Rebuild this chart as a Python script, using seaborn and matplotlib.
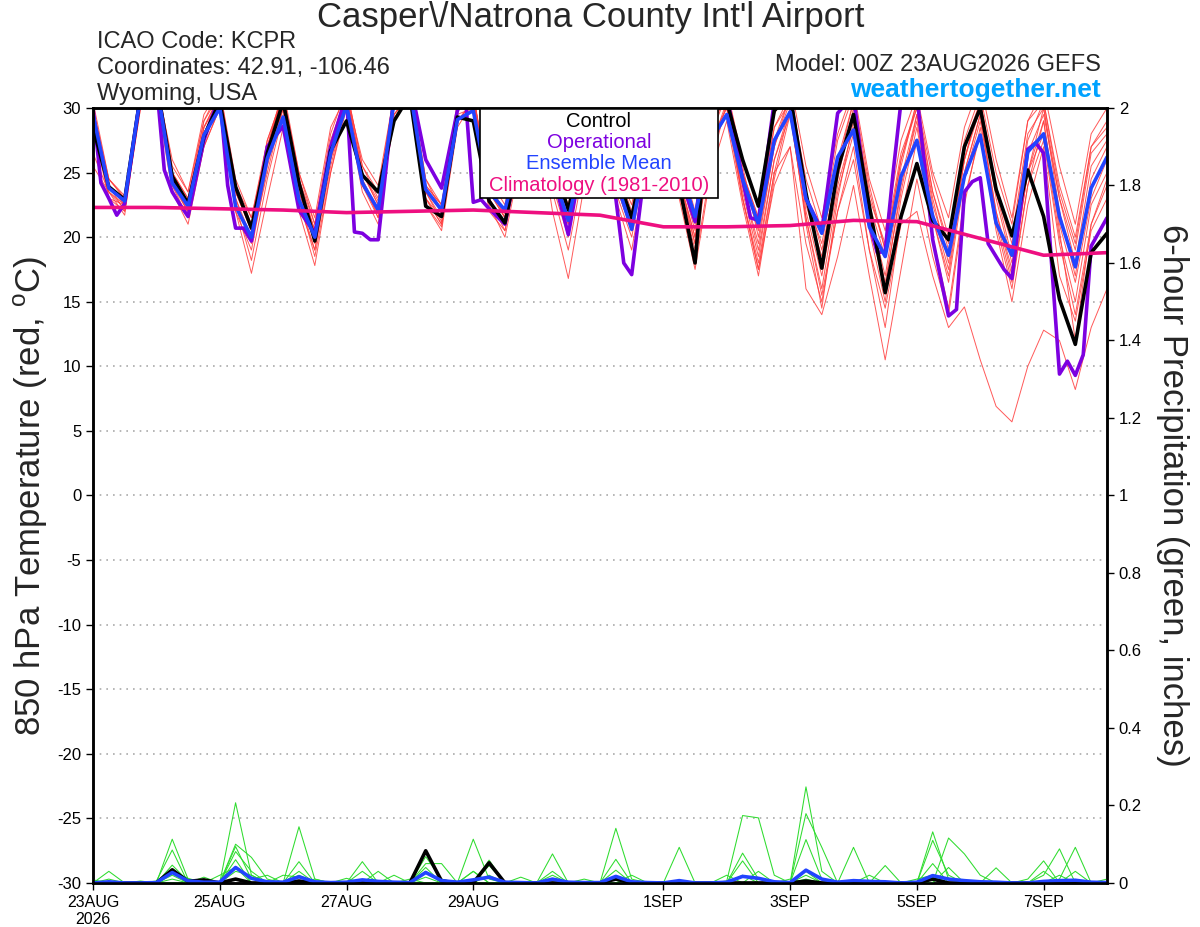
import numpy as np
import pandas as pd
import matplotlib
matplotlib.use("Agg")
import matplotlib.pyplot as plt
from matplotlib.patches import Rectangle
import seaborn as sns

# forecast hours, 6-hourly, 00Z 23AUG2026 -> 00Z 8SEP2026
hours = np.arange(0, 385, 6)

# 850 hPa temperature (C), GEFS members (values above 30 run off the top)
m01 = [30.5, 24.5, 23.2, 31.5, 32.5, 25.5, 23.5, 29.0,
       31.5, 24.0, 21.5, 27.5, 31.0, 25.0, 21.0, 28.0,
       31.5, 25.5, 23.0, 31.0, 32.0, 24.0, 22.5, 30.5,
       31.0, 24.5, 22.5, 29.0, 32.0, 26.0, 23.0, 29.0,
       32.0, 25.5, 22.0, 29.0, 32.0, 26.5, 22.0, 30.0,
       31.5, 26.0, 22.5, 29.5, 32.0, 25.5, 21.5, 28.0,
       31.5, 24.5, 20.5, 27.5, 31.0, 25.0, 21.5, 28.5,
       32.0, 26.0, 21.5, 29.0, 31.5, 25.5, 21.0, 28.0,
       30.0]
m02 = [25.5, 23.5, 21.7, 30.5, 31.5, 24.0, 21.5, 27.0,
       30.0, 22.0, 17.2, 23.0, 28.5, 22.0, 17.8, 25.0,
       30.0, 23.5, 21.0, 29.5, 31.0, 22.5, 20.5, 28.5,
       30.5, 22.5, 20.0, 26.0, 30.0, 22.0, 16.8, 24.0,
       30.0, 23.0, 19.0, 26.0, 30.5, 23.0, 17.5, 25.0,
       29.0, 22.5, 17.0, 24.5, 29.5, 21.5, 15.5, 22.0,
       27.0, 19.0, 13.0, 21.5, 27.5, 20.0, 14.5, 23.0,
       28.0, 20.5, 15.0, 22.5, 27.0, 17.0, 13.5, 20.5,
       23.0]
m03 = [30.0, 23.0, 22.0, 30.0, 31.0, 25.0, 23.0, 28.5,
       30.5, 23.5, 21.0, 27.0, 31.0, 24.0, 20.5, 27.0,
       31.0, 25.0, 22.8, 30.5, 31.0, 23.5, 21.5, 29.0,
       30.5, 23.5, 21.8, 28.0, 31.5, 25.5, 22.5, 28.5,
       31.5, 24.0, 21.5, 28.0, 31.5, 25.5, 21.0, 29.0,
       31.0, 24.0, 19.0, 26.0, 30.0, 22.5, 18.5, 25.5,
       30.5, 23.0, 19.5, 26.5, 30.0, 23.5, 19.5, 27.0,
       30.5, 24.0, 20.0, 28.0, 30.0, 23.0, 19.0, 26.5,
       28.0]
m04 = [28.5, 23.0, 22.5, 30.5, 31.5, 24.0, 22.0, 27.5,
       30.5, 22.5, 18.2, 24.5, 29.5, 22.5, 19.0, 26.0,
       30.0, 24.0, 21.5, 29.0, 31.0, 22.5, 20.8, 29.0,
       30.0, 22.0, 20.5, 27.0, 30.5, 24.5, 20.5, 26.5,
       30.5, 23.5, 20.0, 26.5, 30.5, 24.0, 19.5, 27.5,
       30.0, 23.0, 18.0, 25.0, 27.0, 16.0, 14.0, 18.5,
       24.0, 17.0, 10.5, 17.5, 24.5, 18.5, 14.0, 22.5,
       28.5, 21.0, 16.0, 24.0, 27.5, 19.5, 14.0, 21.0,
       24.0]
m05 = [29.0, 24.0, 22.0, 31.0, 32.0, 24.5, 22.8, 28.0,
       31.0, 23.5, 20.5, 26.0, 30.0, 23.0, 19.0, 25.5,
       30.5, 24.0, 22.0, 30.0, 31.5, 23.0, 21.5, 29.5,
       30.0, 23.0, 21.0, 27.5, 31.0, 24.5, 21.0, 27.0,
       31.0, 24.5, 20.5, 27.0, 31.0, 24.0, 19.0, 27.0,
       29.5, 23.0, 17.5, 24.0, 27.0, 19.5, 15.0, 22.0,
       26.0, 19.0, 14.5, 21.0, 22.0, 17.0, 13.0, 14.6,
       10.5, 6.9, 5.7, 10.0, 12.8, 12.0, 8.2, 13.0,
       16.0]
m06 = [29.0, 24.5, 23.0, 31.0, 32.0, 26.0, 23.5, 29.5,
       31.5, 24.5, 21.5, 27.0, 31.5, 25.0, 21.5, 28.5,
       31.0, 26.0, 24.0, 31.0, 32.0, 24.5, 22.5, 30.0,
       31.0, 24.0, 22.0, 28.5, 31.5, 25.0, 21.0, 27.0,
       31.0, 25.5, 22.5, 29.0, 31.5, 26.0, 21.5, 29.5,
       31.5, 25.5, 20.0, 27.0, 31.0, 24.5, 20.5, 27.5,
       31.0, 24.0, 19.0, 26.0, 30.5, 24.5, 20.0, 27.5,
       31.0, 25.0, 21.0, 29.0, 30.5, 24.0, 20.0, 27.0,
       29.0]
m07 = [26.5, 23.5, 22.2, 30.0, 31.0, 23.5, 21.0, 27.0,
       30.0, 22.0, 19.0, 25.5, 30.0, 23.0, 18.5, 25.0,
       30.5, 24.5, 21.5, 29.5, 31.0, 23.0, 21.0, 29.0,
       30.5, 23.0, 20.5, 26.5, 30.0, 23.5, 19.0, 25.5,
       30.5, 24.0, 20.5, 27.0, 30.5, 23.5, 18.0, 25.5,
       30.5, 24.0, 19.5, 27.0, 30.5, 22.0, 17.0, 24.0,
       28.5, 21.0, 16.0, 24.0, 29.0, 21.5, 17.0, 25.0,
       29.5, 22.0, 17.5, 25.0, 29.0, 21.0, 16.5, 23.0,
       26.0]
m08 = [30.0, 24.0, 22.5, 31.0, 32.0, 25.0, 22.5, 28.5,
       31.0, 23.5, 20.5, 26.5, 31.0, 24.5, 20.5, 27.5,
       31.0, 25.0, 22.5, 30.5, 31.5, 24.0, 22.5, 30.0,
       31.0, 24.0, 21.5, 28.0, 31.0, 25.0, 22.0, 28.0,
       31.5, 25.0, 21.0, 27.5, 31.0, 24.5, 20.0, 28.0,
       31.0, 25.0, 21.5, 28.5, 31.0, 23.5, 19.0, 25.0,
       29.5, 22.0, 17.0, 24.5, 29.5, 23.0, 18.0, 26.0,
       30.0, 23.5, 18.5, 26.5, 29.5, 23.0, 18.0, 25.5,
       27.5]
m09 = [29.0, 23.5, 22.5, 30.5, 31.5, 24.5, 22.0, 28.0,
       30.5, 23.0, 19.5, 25.0, 30.0, 23.5, 19.5, 26.0,
       30.5, 24.5, 22.0, 30.0, 31.0, 23.5, 21.2, 29.0,
       30.5, 23.0, 21.0, 27.5, 31.0, 24.0, 20.0, 27.0,
       31.0, 24.5, 21.5, 28.0, 31.0, 24.5, 20.0, 27.5,
       30.0, 23.5, 18.5, 26.0, 29.5, 21.5, 16.0, 23.5,
       28.0, 20.5, 15.0, 23.0, 28.5, 21.5, 16.5, 24.5,
       29.0, 22.0, 17.0, 25.0, 28.0, 20.0, 15.0, 22.5,
       25.0]
m10 = [30.0, 24.5, 23.0, 31.0, 32.5, 25.0, 23.0, 29.0,
       31.0, 24.0, 21.0, 27.5, 31.0, 24.5, 21.0, 27.0,
       31.5, 25.5, 23.5, 31.0, 32.0, 24.5, 22.0, 30.0,
       31.0, 24.0, 22.0, 28.0, 31.5, 25.5, 22.5, 28.5,
       31.5, 25.0, 21.5, 28.0, 31.5, 25.5, 21.5, 28.5,
       31.0, 24.5, 20.5, 27.5, 31.0, 23.0, 18.0, 24.5,
       30.0, 22.5, 18.5, 25.5, 30.5, 23.5, 19.0, 26.0,
       30.5, 23.0, 18.0, 25.0, 30.0, 22.0, 17.0, 24.5,
       27.0]
m11 = [29.5, 24.0, 22.5, 30.5, 31.5, 24.5, 21.8, 27.5,
       30.5, 23.0, 20.0, 26.0, 30.5, 23.5, 20.0, 26.5,
       30.5, 24.0, 21.8, 29.5, 31.0, 23.0, 21.0, 29.0,
       30.5, 23.5, 21.5, 27.5, 31.0, 24.5, 21.5, 27.5,
       31.0, 24.0, 20.5, 27.0, 31.0, 24.5, 19.5, 27.0,
       30.5, 23.0, 17.5, 25.0, 30.0, 21.0, 14.5, 23.0,
       29.0, 21.5, 16.5, 23.5, 29.5, 22.0, 17.5, 25.0,
       29.5, 21.5, 16.5, 24.0, 29.0, 20.5, 12.0, 21.0,
       24.5]
m12 = [30.0, 24.0, 22.8, 31.5, 32.0, 25.0, 22.5, 28.5,
       31.0, 23.5, 21.0, 27.0, 31.0, 24.0, 20.5, 27.0,
       31.0, 25.0, 22.5, 30.5, 31.5, 23.5, 22.0, 30.0,
       31.0, 23.5, 21.5, 28.0, 31.5, 25.0, 21.5, 28.0,
       31.5, 24.5, 21.0, 28.0, 31.5, 25.0, 20.5, 28.5,
       31.0, 25.0, 21.5, 28.5, 30.5, 23.0, 19.5, 26.0,
       30.5, 23.5, 19.0, 26.0, 30.0, 22.5, 18.5, 26.0,
       30.5, 23.5, 19.5, 27.5, 30.5, 23.5, 19.5, 27.0,
       28.5]
members = [m01, m02, m03, m04, m05, m06, m07, m08, m09, m10, m11, m12]

control = [28.5, 23.9, 22.9, 31.0, 32.0, 24.7, 22.6, 27.8,
           30.5, 23.9, 20.7, 26.5, 30.5, 24.2, 19.7, 26.7,
           29.0, 24.8, 23.5, 29.0, 31.0, 22.4, 21.6, 29.3,
           29.0, 22.8, 21.1, 27.0, 30.5, 26.0, 22.1, 27.5,
           30.5, 25.0, 21.5, 27.5, 30.5, 24.0, 18.0, 32.0,
           30.5, 26.0, 22.4, 29.8, 31.0, 23.4, 17.6, 25.2,
           29.5, 22.4, 15.7, 21.6, 25.7, 21.3, 19.8, 27.0,
           30.0, 23.7, 20.1, 25.2, 21.6, 15.2, 11.7, 18.8,
           20.3]
ens_mean = [29.5, 23.8, 22.8, 31.0, 32.0, 24.2, 22.4, 27.9,
            30.0, 22.4, 20.0, 26.1, 29.3, 22.9, 20.0, 26.5,
            30.2, 24.2, 22.1, 30.5, 31.5, 23.7, 22.1, 29.1,
            29.8, 23.5, 22.1, 27.0, 30.5, 25.0, 21.3, 27.0,
            30.0, 24.5, 20.6, 27.0, 30.5, 25.5, 21.6, 27.5,
            29.5, 24.5, 21.0, 27.5, 29.7, 23.0, 20.3, 26.2,
            28.3, 20.8, 18.5, 24.7, 27.5, 21.6, 18.6, 24.7,
            27.9, 21.1, 18.6, 26.6, 28.0, 21.6, 17.7, 23.8,
            26.2]

# operational run has finer output, so it keeps its own hours
oper_hours = [0, 3, 6, 9, 12, 18, 24, 27, 30, 33, 36, 42, 48, 51, 54, 57, 60,
              66, 72, 78, 84, 90, 96, 99, 102, 105, 108, 114, 120, 126, 132,
              138, 141, 144, 147, 150, 156, 162, 168, 174, 180, 186, 192, 198,
              201, 204, 210, 216, 222, 228, 234, 240, 246, 249, 252, 258, 264,
              270, 276, 282, 288, 291, 294, 297, 300, 303, 306, 312, 318, 324,
              327, 330, 333, 336, 339, 342, 345, 348, 354, 357, 360, 363, 366,
              369, 372, 375, 378, 384]
oper_temp = [30.0, 24.2, 23.0, 21.7, 22.6, 31.0, 32.0, 25.2, 23.5, 22.5, 21.6,
             27.5, 31.0, 24.0, 20.7, 20.7, 19.7, 27.0, 28.6, 22.1, 20.3, 27.0,
             31.0, 20.4, 20.3, 19.8, 19.8, 31.0, 32.0, 26.0, 23.8, 29.8, 31.0,
             22.7, 22.9, 22.2, 21.0, 27.0, 30.5, 25.0, 20.2, 27.0, 30.5, 23.0,
             18.0, 17.1, 27.0, 30.5, 25.0, 21.2, 30.5, 31.0, 24.5, 21.5, 21.3,
             30.5, 31.0, 23.0, 20.5, 29.6, 31.0, 26.0, 21.0, 18.8, 18.9, 25.0,
             30.5, 31.0, 19.8, 13.9, 14.4, 23.5, 24.3, 24.6, 19.5, 18.5, 17.5,
             16.8, 26.8, 27.3, 26.5, 18.0, 9.4, 10.4, 9.3, 10.9, 19.3, 21.5]

# climatology (1981-2010), daily
clim_hours = np.arange(0, 385, 24)
clim_temp = [22.3, 22.3, 22.2, 22.1, 21.9, 22.0, 22.1, 21.9, 21.7,
             20.8, 20.8, 20.9, 21.3, 21.2, 19.9, 18.6, 18.8]

# 6-hour precipitation (inches)
p01 = [0, .03, 0, 0, 0, .113, .01, 0,
       0, .207, .02, 0, 0, .145, .01, 0,
       0, .055, 0, 0, 0, 0, 0, 0,
       .113, .01, 0, 0, 0, .075, 0, 0,
       0, .141, .01, 0, 0, 0, 0, 0,
       .005, .174, .168, .02, 0, .248, .03, 0,
       0, 0, 0, 0, 0, .132, .01, 0,
       0, 0, 0, .01, .057, 0, 0, 0,
       0]
p02 = [0, 0, 0, 0, .005, .085, 0, 0,
       0, .10, .066, .01, 0, .055, 0, 0,
       0, 0, .03, 0, 0, .068, .01, 0,
       0, .059, 0, 0, 0, 0, 0, 0,
       0, .061, 0, 0, 0, .092, 0, 0,
       0, .02, 0, 0, 0, .179, .092, 0,
       0, 0, 0, 0, 0, 0, .116, .075,
       .02, 0, 0, 0, 0, .01, .092, 0,
       0]
p03 = [.008, 0, 0, 0, 0, .046, .005, 0,
       0, .094, .01, .02, 0, 0, 0, 0,
       .012, 0, 0, 0, 0, .05, .05, 0,
       0, 0, 0, .015, 0, 0, 0, 0,
       0, .033, 0, 0, 0, 0, 0, 0,
       0, .077, .01, 0, 0, .112, .01, 0,
       .092, 0, 0, 0, 0, .11, .02, 0,
       0, 0, 0, 0, .02, .088, 0, 0,
       0]
p04 = [0, 0, 0, 0, 0, .03, .012, 0,
       0, .081, .03, 0, 0, 0, .01, 0,
       0, 0, 0, 0, 0, .04, 0, 0,
       .03, 0, 0, 0, 0, .03, 0, 0,
       0, 0, 0, 0, 0, 0, 0, 0,
       0, .057, 0, 0, 0, .03, 0, 0,
       0, 0, .045, 0, 0, .05, 0, 0,
       0, .039, 0, 0, .03, 0, 0, 0,
       0]
p05 = [0, .01, 0, 0, 0, .02, 0, .015,
       0, .06, 0, 0, 0, .03, 0, 0,
       0, 0, 0, .02, 0, .03, 0, 0,
       0, .045, 0, 0, 0, 0, 0, .01,
       0, 0, .02, 0, 0, 0, 0, 0,
       0, 0, .03, 0, 0, .02, 0, 0,
       0, .02, 0, 0, 0, 0, .04, 0,
       0, 0, 0, 0, 0, 0, .03, 0,
       .01]
p06 = [0, 0, 0, 0, 0, .01, 0, 0,
       .02, .04, 0, 0, .02, .015, 0, 0,
       0, .03, 0, 0, .01, 0, 0, 0,
       .03, 0, 0, 0, 0, .02, 0, 0,
       0, .015, 0, 0, 0, 0, 0, 0,
       .02, 0, 0, 0, .01, 0, 0, 0,
       0, 0, 0, 0, .01, .02, 0, 0,
       0, 0, 0, 0, 0, .02, 0, 0,
       0]
p07 = [0, 0, 0, .005, 0, 0, 0, 0,
       0, .03, .02, 0, 0, .02, 0, 0,
       0, 0, 0, 0, 0, .015, 0, 0,
       0, .02, 0, 0, 0, 0, 0, 0,
       0, .01, 0, 0, 0, 0, 0, 0,
       0, 0, 0, 0, 0, .01, 0, 0,
       0, 0, 0, 0, 0, .015, 0, 0,
       0, 0, 0, 0, 0, 0, 0, 0,
       0]
pcp_members = [p01, p02, p03, p04, p05, p06, p07]

pcp_control = [0, 0, 0, 0, 0, .034, .004, .008,
               0, .01, 0, 0, 0, .005, 0, 0,
               0, 0, 0, 0, 0, .083, .005, 0,
               0, .052, 0, 0, 0, 0, 0, 0,
               0, .01, 0, 0, 0, 0, 0, 0,
               0, 0, 0, 0, 0, .005, 0, 0,
               0, 0, 0, 0, 0, .01, 0, 0,
               0, 0, 0, 0, 0, 0, 0, 0,
               0]
pcp_mean = [0, .003, 0, 0, .001, .027, .005, .002,
            .002, .04, .012, .003, .002, .016, .003, .001,
            .002, .008, .004, .002, .001, .027, .006, .002,
            .008, .015, .002, .001, 0, .01, .002, .001,
            .001, .017, .003, .001, 0, .006, 0, 0,
            .002, .017, .012, .003, .001, .033, .01, .002,
            .006, .004, .003, 0, .002, .019, .01, .006,
            .003, .002, 0, 0, .004, .006, .007, .002,
            .001]

tick_hours = [0, 48, 96, 144, 216, 264, 312, 360]
tick_labels = ['23AUG\n2026', '25AUG', '27AUG', '29AUG', '1SEP', '3SEP', '5SEP', '7SEP']

RED = '#ff3c3c'
GREEN = '#2edc2e'
PURPLE = '#7d00e0'
BLUE = '#2244ff'
PINK = '#ee0f80'

sns.set_style("ticks")
plt.rcParams['font.family'] = ['Liberation Sans', 'DejaVu Sans']
plt.rcParams['mathtext.fontset'] = 'custom'
plt.rcParams['mathtext.rm'] = 'Liberation Sans'
plt.rcParams['axes.unicode_minus'] = False

fig = plt.figure(figsize=(12, 9.27), dpi=100)
ax = fig.add_axes([0.0775, 0.0475, 0.845, 0.836])
ax2 = ax.twinx()

mem_df = pd.concat([pd.DataFrame({'hour': hours, 'temp': m, 'member': k})
                    for k, m in enumerate(members)])
sns.lineplot(data=mem_df, x='hour', y='temp', units='member', estimator=None,
             color=RED, lw=0.7, alpha=0.85, ax=ax, legend=False)
sns.lineplot(x=oper_hours, y=oper_temp, color=PURPLE, lw=2.6, ax=ax)
sns.lineplot(x=hours, y=control, color='black', lw=2.6, ax=ax)
sns.lineplot(x=hours, y=ens_mean, color=BLUE, lw=2.6, ax=ax)
sns.lineplot(x=clim_hours, y=clim_temp, color=PINK, lw=2.6, ax=ax)

pcp_df = pd.concat([pd.DataFrame({'hour': hours, 'pcp': p, 'member': k})
                    for k, p in enumerate(pcp_members)])
sns.lineplot(data=pcp_df, x='hour', y='pcp', units='member', estimator=None,
             color=GREEN, lw=0.75, ax=ax2, legend=False)
sns.lineplot(x=hours, y=pcp_control, color='black', lw=2.6, ax=ax2)
sns.lineplot(x=hours, y=pcp_mean, color=BLUE, lw=2.6, ax=ax2)

ax.set_xlim(0, 384)
ax.set_ylim(-30, 30)
ax2.set_ylim(0, 2)
ax.set_yticks(range(-30, 31, 5))
ax2.set_yticks(np.arange(0, 2.01, 0.2))
ax2.set_yticklabels(['0', '0.2', '0.4', '0.6', '0.8', '1', '1.2', '1.4', '1.6', '1.8', '2'])
ax.set_xticks(tick_hours)
ax.set_xticklabels(tick_labels)

ax.yaxis.grid(True, linestyle=(0, (1, 3)), color='#aaaaaa', lw=1.2)
ax.xaxis.grid(False)

for a in (ax, ax2):
    for s in a.spines.values():
        s.set_color('black')
        s.set_linewidth(1.8)
    a.tick_params(direction='out', length=5, width=1, colors='black', labelsize=12)
ax.tick_params(axis='x', labelsize=11.5)
ax2.tick_params(right=True, left=False)
ax.tick_params(left=True, bottom=True, right=False)

ax.set_xlabel('')
ax2.set_xlabel('')
ax.set_ylabel(r'850 hPa Temperature (red, $^{\mathrm{o}}$C)', fontsize=25)
ax.yaxis.set_label_coords(-0.061, 0.5)
ax.yaxis.label.set_va('center')
ax2.set_ylabel('6-hour Precipitation (green, inches)', fontsize=25, rotation=270)
ax2.yaxis.set_label_coords(1.065, 0.5)
ax2.yaxis.label.set_va('center')

# legend box
ax.add_patch(Rectangle((0.3817, 0.8839), 0.2347, 0.1161, transform=ax.transAxes,
                       facecolor='white', edgecolor='black', lw=1.2, zorder=5))
leg_items = [('Control', 'black'), ('Operational', PURPLE),
             ('Ensemble Mean', BLUE), ('Climatology (1981-2010)', PINK)]
for (txt, col), yy in zip(leg_items, [0.9759, 0.9488, 0.9209, 0.8933]):
    ax.text(0.499, yy, txt, color=col, fontsize=14.5, ha='center', va='baseline',
            transform=ax.transAxes, zorder=6)

# header
fig.text(0.492, 1 - 18 / 927, "Casper\\/Natrona County Int'l Airport",
         ha='center', va='center', fontsize=25)
fig.text(97 / 1200, 1 - 48 / 927, 'ICAO Code: KCPR', fontsize=17, va='baseline')
fig.text(97 / 1200, 1 - 74 / 927, 'Coordinates: 42.91, -106.46', fontsize=17, va='baseline')
fig.text(97 / 1200, 1 - 100 / 927, 'Wyoming, USA', fontsize=17, va='baseline')
fig.text(1101 / 1200, 1 - 71 / 927, 'Model: 00Z 23AUG2026 GEFS', fontsize=17,
         ha='right', va='baseline')
fig.text(1101 / 1200, 1 - 97 / 927, 'weathertogether.net', fontsize=19,
         fontweight='bold', color='#00a2ff', ha='right', va='baseline')

fig.savefig('out.png', dpi=100)
